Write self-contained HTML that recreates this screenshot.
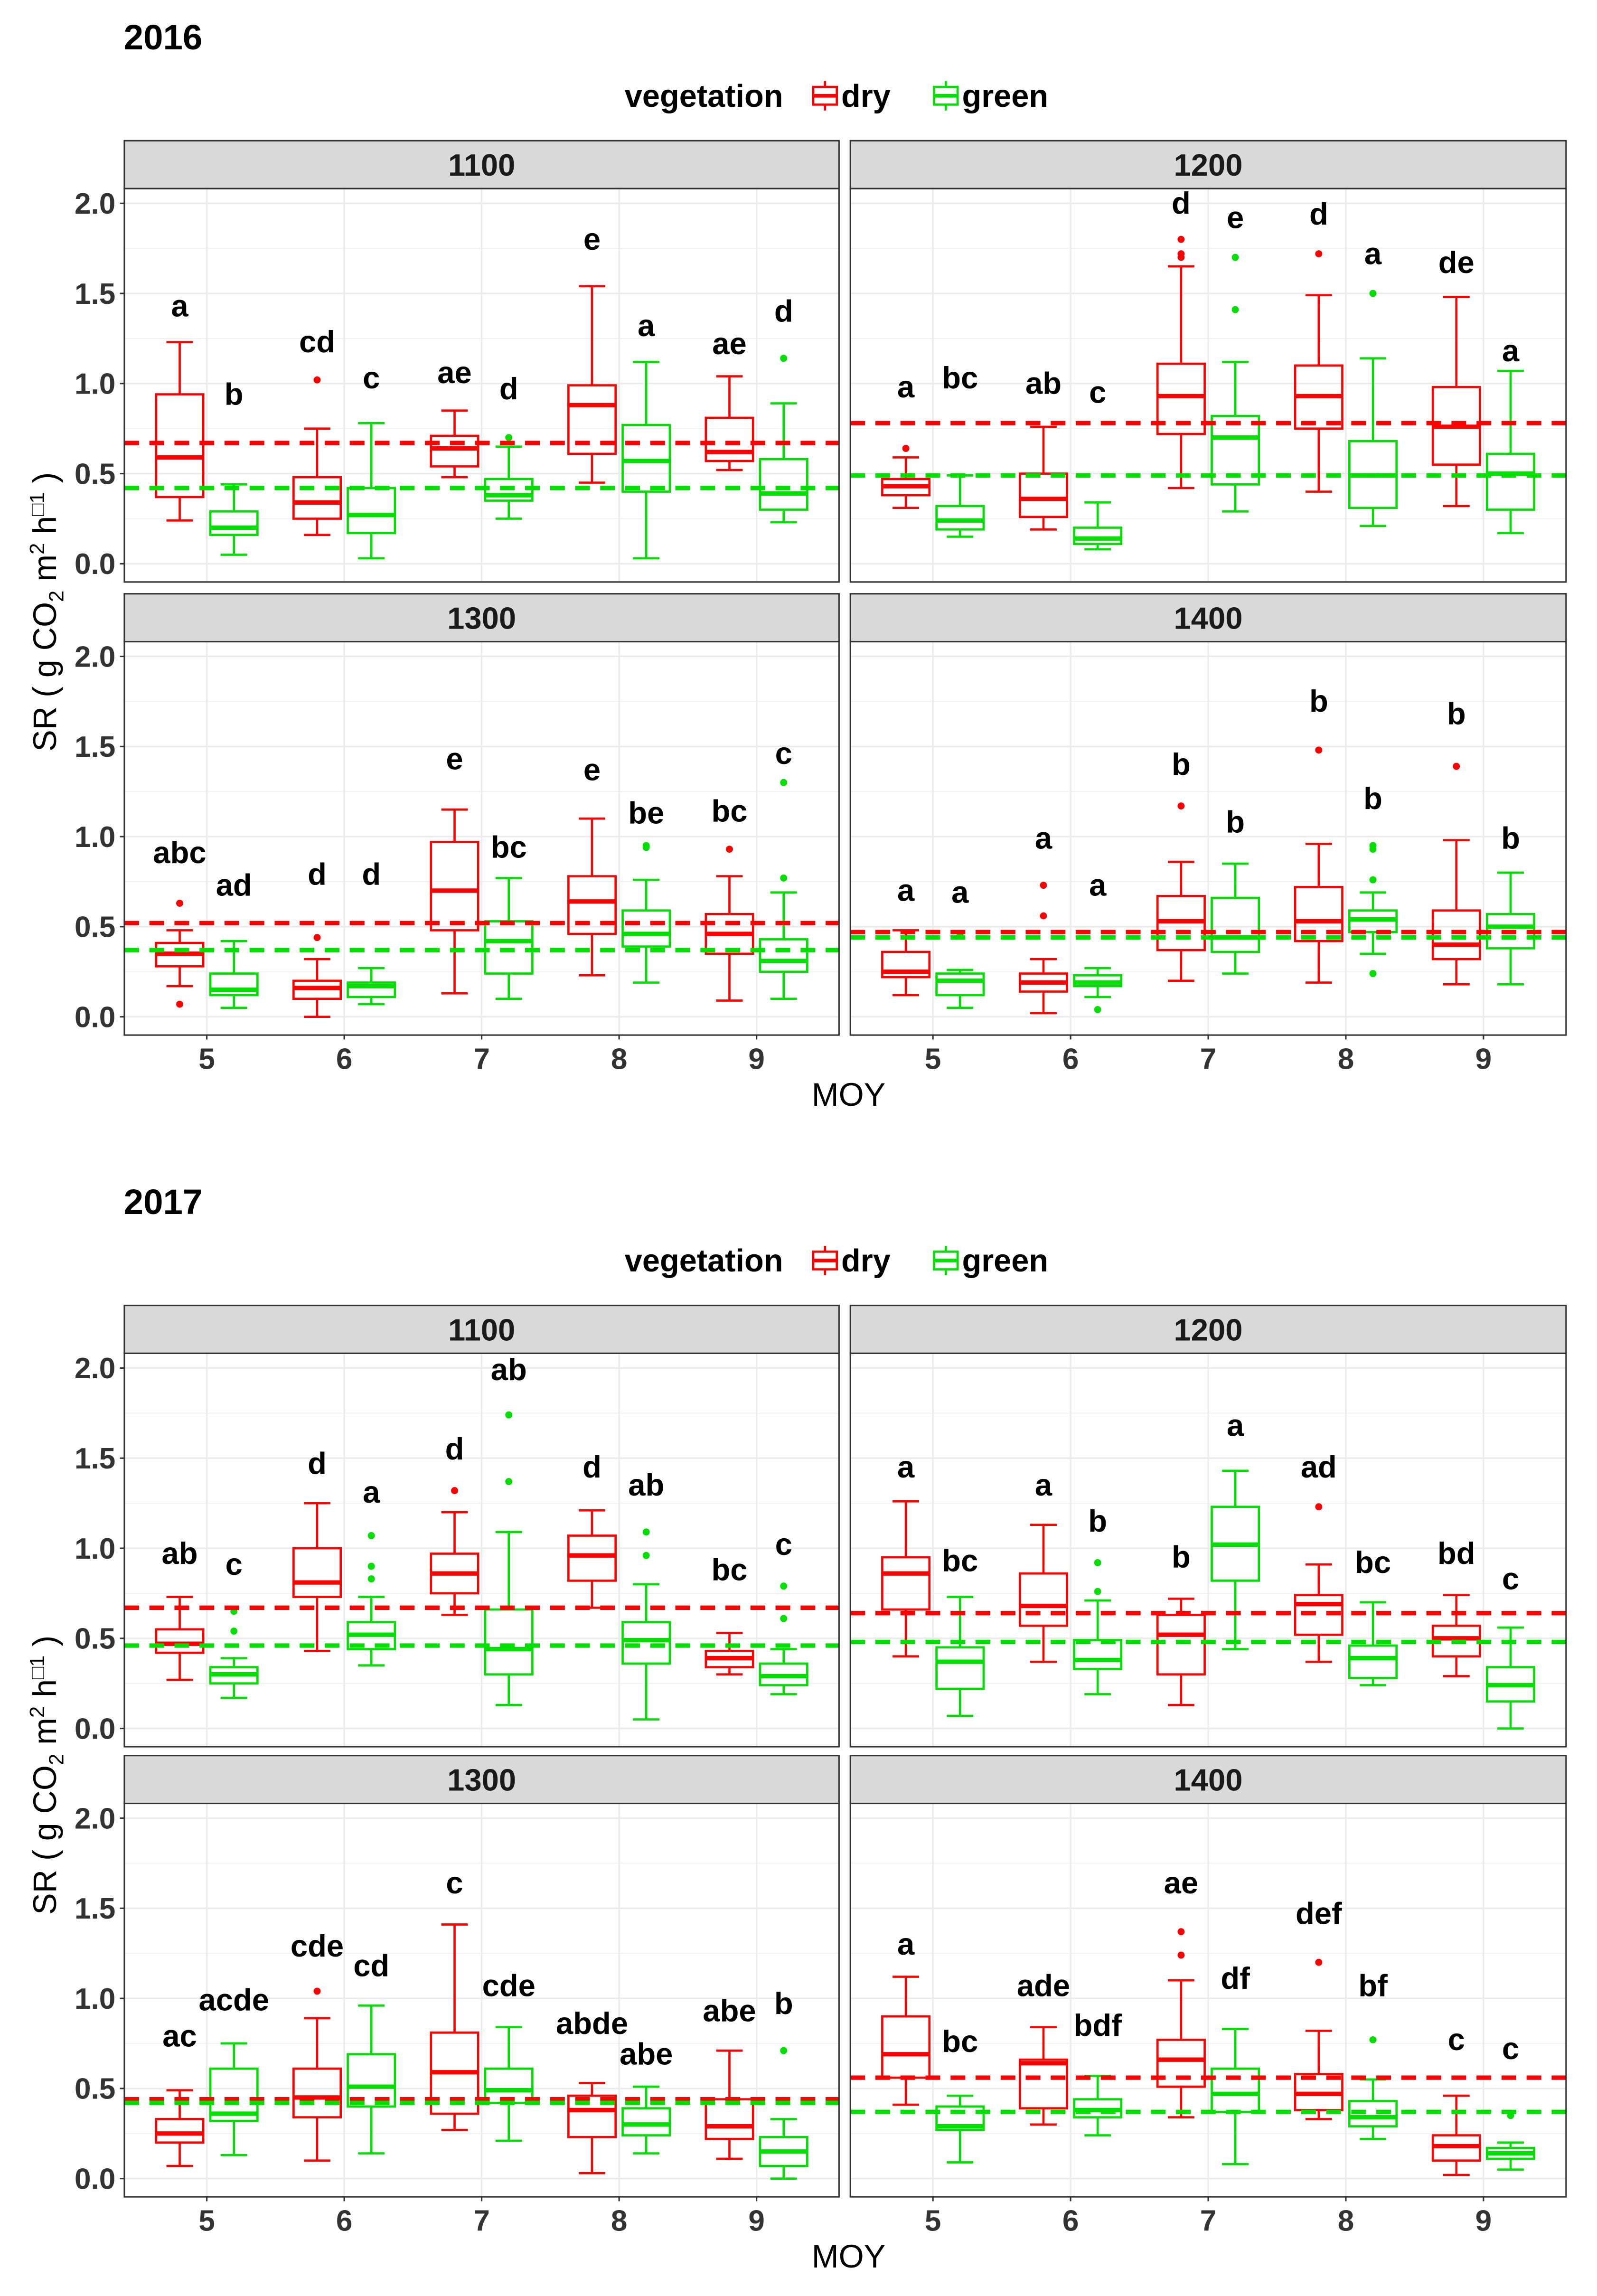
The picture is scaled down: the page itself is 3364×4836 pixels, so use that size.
<!DOCTYPE html>
<html><head><meta charset="utf-8">
<style>
html,body{margin:0;padding:0;background:#fff;}
svg{display:block;}
text{font-family:"Liberation Sans",Arial,sans-serif;}
</style></head>
<body>
<svg id="chart" xmlns="http://www.w3.org/2000/svg" width="3364" height="4836" viewBox="0 0 1084 1558.3" preserveAspectRatio="none">
<rect x="0" y="0" width="1084" height="1558.3" fill="#fff"/>
</svg>
<script>
// ---------- data ----------
const months = [5, 6, 7, 8, 9];
const yTicks = [0, 0.5, 1, 1.5, 2];
const yTickLabels = ["0.0", "0.5", "1.0", "1.5", "2.0"];
const years = ["2016", "2017"];
const sites = ["1100", "1200", "1300", "1400"];

// stats per month: [lowerWhisker, q1, median, q3, upperWhisker]
const d16_1100_dry = [[.24,.37,.59,.94,1.23],[.16,.25,.34,.48,.75],[.48,.54,.64,.71,.85],[.45,.61,.88,.99,1.54],[.52,.57,.62,.81,1.04]];
const d16_1100_green = [[.05,.16,.20,.29,.44],[.03,.17,.27,.42,.78],[.25,.35,.38,.47,.65],[.03,.40,.57,.77,1.12],[.23,.30,.39,.58,.89]];
const o16_1100_dry = [[],[1.02],[],[],[]];
const o16_1100_green = [[],[],[.70],[],[1.14]];
const l16_1100_dry = ["a","cd","ae","e","ae"];
const ly16_1100_dry = [1.43,1.23,1.06,1.80,1.22];
const l16_1100_green = ["b","c","d","a","d"];
const ly16_1100_green = [.94,1.03,.97,1.32,1.40];
const m16_1100 = [.67,.42];

const d16_1200_dry = [[.31,.38,.43,.47,.59],[.19,.26,.36,.50,.76],[.42,.72,.93,1.11,1.65],[.40,.75,.93,1.10,1.49],[.32,.55,.76,.98,1.48]];
const d16_1200_green = [[.15,.19,.24,.32,.49],[.08,.11,.14,.20,.34],[.29,.44,.70,.82,1.12],[.21,.31,.49,.68,1.14],[.17,.30,.50,.61,1.07]];
const o16_1200_dry = [[.64],[],[1.70,1.72,1.80],[1.72],[]];
const o16_1200_green = [[],[],[1.41,1.70],[1.50],[]];
const l16_1200_dry = ["a","ab","d","d","de"];
const ly16_1200_dry = [.98,1.0,2.0,1.94,1.67];
const l16_1200_green = ["bc","c","e","a","a"];
const ly16_1200_green = [1.03,.95,1.92,1.72,1.18];
const m16_1200 = [.78,.49];

const d16_1300_dry = [[.17,.28,.35,.41,.48],[0,.10,.16,.20,.32],[.13,.48,.70,.97,1.15],[.23,.46,.64,.78,1.10],[.09,.35,.46,.57,.78]];
const d16_1300_green = [[.05,.12,.15,.24,.42],[.07,.11,.17,.19,.27],[.10,.24,.42,.53,.77],[.19,.39,.46,.59,.76],[.10,.25,.31,.43,.69]];
const o16_1300_dry = [[.07,.63],[.44],[],[],[.93]];
const o16_1300_green = [[],[],[],[.94,.95],[.77,1.30]];
const l16_1300_dry = ["abc","d","e","e","bc"];
const ly16_1300_dry = [.91,.79,1.43,1.37,1.14];
const l16_1300_green = ["ad","d","bc","be","c"];
const ly16_1300_green = [.73,.79,.94,1.13,1.46];
const m16_1300 = [.52,.37];

const d16_1400_dry = [[.12,.22,.25,.36,.48],[.02,.14,.19,.24,.32],[.20,.37,.53,.67,.86],[.19,.42,.53,.72,.96],[.18,.32,.40,.59,.98]];
const d16_1400_green = [[.05,.12,.20,.24,.26],[.11,.17,.19,.23,.27],[.24,.36,.44,.66,.85],[.35,.47,.54,.59,.69],[.18,.38,.50,.57,.80]];
const o16_1400_dry = [[],[.56,.73],[1.17],[1.48],[1.39]];
const o16_1400_green = [[.45],[.04],[],[.24,.76,.93,.95],[]];
const l16_1400_dry = ["a","a","b","b","b"];
const ly16_1400_dry = [.70,.99,1.40,1.75,1.68];
const l16_1400_green = ["a","a","b","b","b"];
const ly16_1400_green = [.69,.73,1.08,1.21,.99];
const m16_1400 = [.47,.44];

const d17_1100_dry = [[.27,.42,.47,.55,.73],[.43,.73,.81,1.0,1.25],[.63,.75,.86,.97,1.20],[.67,.82,.96,1.07,1.21],[.30,.34,.39,.43,.53]];
const d17_1100_green = [[.17,.25,.30,.34,.39],[.35,.44,.52,.59,.73],[.13,.30,.44,.66,1.09],[.05,.36,.49,.59,.80],[.19,.24,.29,.36,.44]];
const o17_1100_dry = [[],[],[1.32],[],[]];
const o17_1100_green = [[.54,.65],[.83,.90,1.07],[1.37,1.74],[.96,1.09],[.61,.79]];
const l17_1100_dry = ["ab","d","d","d","bc"];
const ly17_1100_dry = [.97,1.47,1.55,1.45,.88];
const l17_1100_green = ["c","a","ab","ab","c"];
const ly17_1100_green = [.91,1.31,1.99,1.35,1.02];
const m17_1100 = [.67,.46];

const d17_1200_dry = [[.40,.66,.86,.95,1.26],[.37,.57,.68,.86,1.13],[.13,.30,.52,.63,.72],[.37,.52,.69,.74,.91],[.29,.40,.50,.57,.74]];
const d17_1200_green = [[.07,.22,.37,.45,.73],[.19,.33,.38,.49,.71],[.44,.82,1.02,1.23,1.43],[.24,.28,.39,.46,.70],[0,.15,.24,.34,.56]];
const o17_1200_dry = [[],[],[],[1.23],[]];
const o17_1200_green = [[],[.76,.92],[],[],[]];
const l17_1200_dry = ["a","a","b","ad","bd"];
const ly17_1200_dry = [1.45,1.35,.95,1.45,.97];
const l17_1200_green = ["bc","b","a","bc","c"];
const ly17_1200_green = [.93,1.15,1.68,.92,.83];
const m17_1200 = [.64,.48];

const d17_1300_dry = [[.07,.20,.25,.33,.49],[.10,.34,.45,.61,.89],[.27,.36,.59,.81,1.41],[.03,.23,.38,.46,.53],[.11,.22,.29,.44,.71]];
const d17_1300_green = [[.13,.32,.36,.61,.75],[.14,.40,.51,.69,.96],[.21,.42,.49,.61,.84],[.14,.24,.30,.39,.51],[0,.07,.15,.23,.33]];
const o17_1300_dry = [[],[1.04],[],[],[]];
const o17_1300_green = [[],[],[],[],[.71]];
const l17_1300_dry = ["ac","cde","c","abde","abe"];
const ly17_1300_dry = [.79,1.29,1.64,.86,.93];
const l17_1300_green = ["acde","cd","cde","abe","b"];
const ly17_1300_green = [.99,1.18,1.07,.69,.97];
const m17_1300 = [.44,.42];

const d17_1400_dry = [[.41,.56,.69,.90,1.12],[.30,.39,.64,.66,.84],[.34,.51,.66,.77,1.10],[.33,.38,.47,.58,.82],[.02,.10,.18,.24,.46]];
const d17_1400_green = [[.09,.27,.29,.40,.46],[.24,.34,.38,.44,.57],[.08,.37,.47,.61,.83],[.22,.29,.34,.43,.55],[.05,.11,.14,.17,.20]];
const o17_1400_dry = [[],[],[1.24,1.37],[1.20],[]];
const o17_1400_green = [[],[],[],[.77],[.35]];
const l17_1400_dry = ["a","ade","ae","def","c"];
const ly17_1400_dry = [1.30,1.07,1.64,1.47,.77];
const l17_1400_green = ["bc","bdf","df","bf","c"];
const ly17_1400_green = [.76,.85,1.11,1.07,.72];
const m17_1400 = [.56,.37];

const panelList = [
 [0,0,d16_1100_dry,d16_1100_green,o16_1100_dry,o16_1100_green,l16_1100_dry,ly16_1100_dry,l16_1100_green,ly16_1100_green,m16_1100],
 [0,1,d16_1200_dry,d16_1200_green,o16_1200_dry,o16_1200_green,l16_1200_dry,ly16_1200_dry,l16_1200_green,ly16_1200_green,m16_1200],
 [0,2,d16_1300_dry,d16_1300_green,o16_1300_dry,o16_1300_green,l16_1300_dry,ly16_1300_dry,l16_1300_green,ly16_1300_green,m16_1300],
 [0,3,d16_1400_dry,d16_1400_green,o16_1400_dry,o16_1400_green,l16_1400_dry,ly16_1400_dry,l16_1400_green,ly16_1400_green,m16_1400],
 [1,0,d17_1100_dry,d17_1100_green,o17_1100_dry,o17_1100_green,l17_1100_dry,ly17_1100_dry,l17_1100_green,ly17_1100_green,m17_1100],
 [1,1,d17_1200_dry,d17_1200_green,o17_1200_dry,o17_1200_green,l17_1200_dry,ly17_1200_dry,l17_1200_green,ly17_1200_green,m17_1200],
 [1,2,d17_1300_dry,d17_1300_green,o17_1300_dry,o17_1300_green,l17_1300_dry,ly17_1300_dry,l17_1300_green,ly17_1300_green,m17_1300],
 [1,3,d17_1400_dry,d17_1400_green,o17_1400_dry,o17_1400_green,l17_1400_dry,ly17_1400_dry,l17_1400_green,ly17_1400_green,m17_1400]
];

// ---------- layout ----------
const NS = "http://www.w3.org/2000/svg";
const svg = document.getElementById("chart");
const RED = "#ff0000", GREEN = "#00e000";
const stripTops = [[95.5, 403], [886, 1191.5]];
const STRIP_H = 32.5, PLOT_H = 267;
const colX = [[84.4, 569.5], [577.2, 1063]];
const UNIT = 122.3;

function el(tag, attrs, parent) {
  const e = document.createElementNS(NS, tag);
  for (const k in attrs) e.setAttribute(k, attrs[k]);
  (parent || svg).appendChild(e);
  return e;
}
function xScale(col, m) { const [l, r] = colX[col]; return l + (m - 4.4) / 5.2 * (r - l); }
function yScale(plotTop, v) { return plotTop + 10 + (2.0 - v) * UNIT; }

years.forEach((yr, yi) => {
  const st = stripTops[yi][0];
  const t = el("text", {x: 84, y: st - 62, "font-size": 24, "font-weight": "bold", fill: "#000"});
  t.textContent = yr;
  
  

  const lg = el("g", {});
  
  
  const ly = st - 30.5;
  const lt = el("text", {x: 424, y: ly + 7.5, "font-size": 21.5, "font-weight": "bold", fill: "#000"}, lg);
  lt.textContent = "vegetation";
  [["dry", RED, 552, 571], ["green", GREEN, 634, 653]].forEach(([nm, c, kx, tx]) => {
    const kg = el("g", {}, lg);
    
    
    el("line", {x1: kx + 8, x2: kx + 8, y1: ly - 10, y2: ly + 10, stroke: c, "stroke-width": 1.5}, kg);
    el("rect", {x: kx, y: ly - 6, width: 16, height: 12, fill: "#fff", stroke: c, "stroke-width": 1.5}, kg);
    el("line", {x1: kx, x2: kx + 16, y1: ly, y2: ly, stroke: c, "stroke-width": 2.5}, kg);
    const tt = el("text", {x: tx, y: ly + 7.5, "font-size": 21.5, "font-weight": "bold", fill: "#000"}, kg);
    tt.textContent = nm;
  });

  const plotA = st + STRIP_H, plotB = stripTops[yi][1] + STRIP_H + PLOT_H;
  const cy = (plotA + plotB) / 2;
  const yt = el("text", {x: 0, y: 0, "font-size": 22, fill: "#000", "text-anchor": "middle",
    transform: "translate(38," + cy + ") rotate(-90)"});
  
  
  yt.innerHTML = 'SR  ( g CO<tspan font-size="14" dy="5">2</tspan><tspan dy="-5"> m</tspan><tspan font-size="14" dy="-8">2</tspan><tspan dy="8"> h</tspan><tspan font-size="14" dy="-8">\u25A11</tspan><tspan dy="8"> )</tspan>';

  const xt = el("text", {x: 576, y: plotB + 48, "font-size": 22, fill: "#000", "text-anchor": "middle"});
  xt.textContent = "MOY";
  
  
});

panelList.forEach(p => {
  const [yi, si, dry, green, oDry, oGreen, lDry, lyDry, lGreen, lyGreen, means] = p;
  const row = Math.floor(si / 2), col = si % 2;
  const st = stripTops[yi][row];
  const pt = st + STRIP_H;
  const [xl, xr] = colX[col];
  const g = el("g", {});
  
  

  const sr = el("rect", {x: xl, y: st, width: xr - xl, height: STRIP_H, fill: "#d9d9d9", stroke: "#333", "stroke-width": 1}, g);
  
  
  const stx = el("text", {x: (xl + xr) / 2, y: st + STRIP_H / 2 + 7.5, "font-size": 21, "font-weight": "bold", fill: "#1a1a1a", "text-anchor": "middle"}, g);
  stx.textContent = sites[si];
  
  

  el("rect", {x: xl, y: pt, width: xr - xl, height: PLOT_H, fill: "#fff"}, g);
  for (let v = 0.25; v < 2.1; v += 0.5) {
    el("line", {x1: xl, x2: xr, y1: yScale(pt, v), y2: yScale(pt, v), stroke: "#f0f0f0", "stroke-width": 0.6}, g);
  }
  yTicks.forEach(v => {
    el("line", {x1: xl, x2: xr, y1: yScale(pt, v), y2: yScale(pt, v), stroke: "#ebebeb", "stroke-width": 1.1}, g);
  });
  months.forEach(m => {
    el("line", {x1: xScale(col, m), x2: xScale(col, m), y1: pt, y2: pt + PLOT_H, stroke: "#ebebeb", "stroke-width": 1.1}, g);
  });

  const bw = 32, off = 18.4, cap = 9;
  [[dry, oDry, RED, -1, "dry"], [green, oGreen, GREEN, 1, "green"]].forEach(([stats, outs, c, sgn, nm]) => {
    stats.forEach((s, i) => {
      const cx = xScale(col, months[i]) + sgn * off;
      const bg = el("g", {}, g);
      
      
      const [lw, q1, md, q3, uw] = s.map(v => yScale(pt, v));
      el("line", {x1: cx, x2: cx, y1: lw, y2: q1, stroke: c, "stroke-width": 1.5}, bg);
      el("line", {x1: cx, x2: cx, y1: q3, y2: uw, stroke: c, "stroke-width": 1.5}, bg);
      el("line", {x1: cx - cap, x2: cx + cap, y1: lw, y2: lw, stroke: c, "stroke-width": 1.5}, bg);
      el("line", {x1: cx - cap, x2: cx + cap, y1: uw, y2: uw, stroke: c, "stroke-width": 1.5}, bg);
      el("rect", {x: cx - bw / 2, y: q3, width: bw, height: Math.max(q1 - q3, 0.5), fill: "none", stroke: c, "stroke-width": 1.5}, bg);
      el("line", {x1: cx - bw / 2, x2: cx + bw / 2, y1: md, y2: md, stroke: c, "stroke-width": 3}, bg);
      outs[i].forEach(v => {
        const o = el("circle", {cx: cx, cy: yScale(pt, v), r: 2.4, fill: c}, bg);
        
        
      });
    });
  });

  [[means[0], RED, "dry"], [means[1], GREEN, "green"]].forEach(([v, c, nm]) => {
    const ml = el("line", {x1: xl, x2: xr, y1: yScale(pt, v), y2: yScale(pt, v), stroke: c, "stroke-width": 3, "stroke-dasharray": "10 7"}, g);
    
    
  });

  [[lDry, lyDry, -1], [lGreen, lyGreen, 1]].forEach(([labs, ys, sgn]) => {
    labs.forEach((lab, i) => {
      const t = el("text", {x: xScale(col, months[i]) + sgn * off, y: yScale(pt, ys[i]) + 7, "font-size": 21, "font-weight": "bold", fill: "#000", "text-anchor": "middle"}, g);
      t.textContent = lab;
      
      
    });
  });

  el("rect", {x: xl, y: pt, width: xr - xl, height: PLOT_H, fill: "none", stroke: "#333", "stroke-width": 1}, g);

  if (col === 0) {
    yTicks.forEach((v, i) => {
      el("line", {x1: xl - 3, x2: xl, y1: yScale(pt, v), y2: yScale(pt, v), stroke: "#333", "stroke-width": 1}, g);
      const t = el("text", {x: xl - 6, y: yScale(pt, v) + 7, "font-size": 20, "font-weight": "bold", fill: "#333", "text-anchor": "end"}, g);
      t.textContent = yTickLabels[i];
      
      
    });
  }
  if (row === 1) {
    months.forEach(m => {
      const x = xScale(col, m);
      el("line", {x1: x, x2: x, y1: pt + PLOT_H, y2: pt + PLOT_H + 3, stroke: "#333", "stroke-width": 1}, g);
      const t = el("text", {x: x, y: pt + PLOT_H + 23, "font-size": 20, "font-weight": "bold", fill: "#333", "text-anchor": "middle"}, g);
      t.textContent = m;
      
      
    });
  }
});
</script>
</body></html>
